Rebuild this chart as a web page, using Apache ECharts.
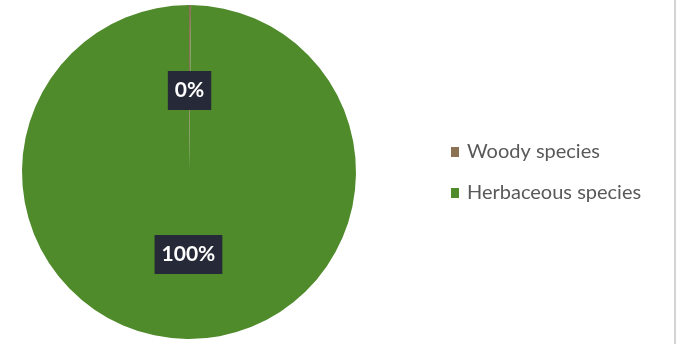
<!DOCTYPE html>
<html>
<head>
<meta charset="utf-8">
<script src="https://cdn.jsdelivr.net/npm/echarts@6/dist/echarts.min.js"></script>
<style>
  html, body { margin: 0; padding: 0; background: #fff; }
  #chart { width: 674px; height: 344px; border-right: 2px solid #d4d4d4; }
</style>
</head>
<body>
<div id="chart"></div>
<script>
  // categories and shares (%)
  var categories = ['Woody species', 'Herbaceous species'];
  var shares = [0.2, 99.8];
  var colors = ['#8c7254', '#4f8a2b'];
  var labelText = ['0%', '100%'];

  var chart = echarts.init(document.getElementById('chart'));

  var pieData = categories.map(function (name, i) {
    return { name: name, value: shares[i], itemStyle: { color: colors[i] } };
  });

  chart.setOption({
    animation: false,
    backgroundColor: '#fff',
    legend: {
      orient: 'vertical',
      left: 451,
      top: 142,
      padding: 0,
      icon: 'rect',
      itemWidth: 8,
      itemHeight: 10,
      itemGap: 21,
      data: categories,
      textStyle: {
        fontFamily: 'Lato',
        fontSize: 20,
        lineHeight: 20,
        color: '#595959',
        padding: [0, 0, 0, 3]
      }
    },
    series: [{
      type: 'pie',
      center: [189, 172],
      radius: 167,
      startAngle: 90,
      clockwise: true,
      data: pieData,
      itemStyle: { borderWidth: 0 },
      label: {
        position: 'inside',
        formatter: function (p) { return labelText[p.dataIndex]; },
        fontFamily: 'Lato',
        fontWeight: 'bold',
        fontSize: 21,
        color: '#fff',
        backgroundColor: '#262a38',
        padding: [9, 7]
      },
      // nudge labels a little toward the centre, as in the picture
      labelLayout: function (params) {
        return { dy: params.dataIndex === 0 ? 5 : -4 };
      },
      labelLine: { show: false },
      emphasis: { disabled: true }
    }]
  });
</script>
</body>
</html>
